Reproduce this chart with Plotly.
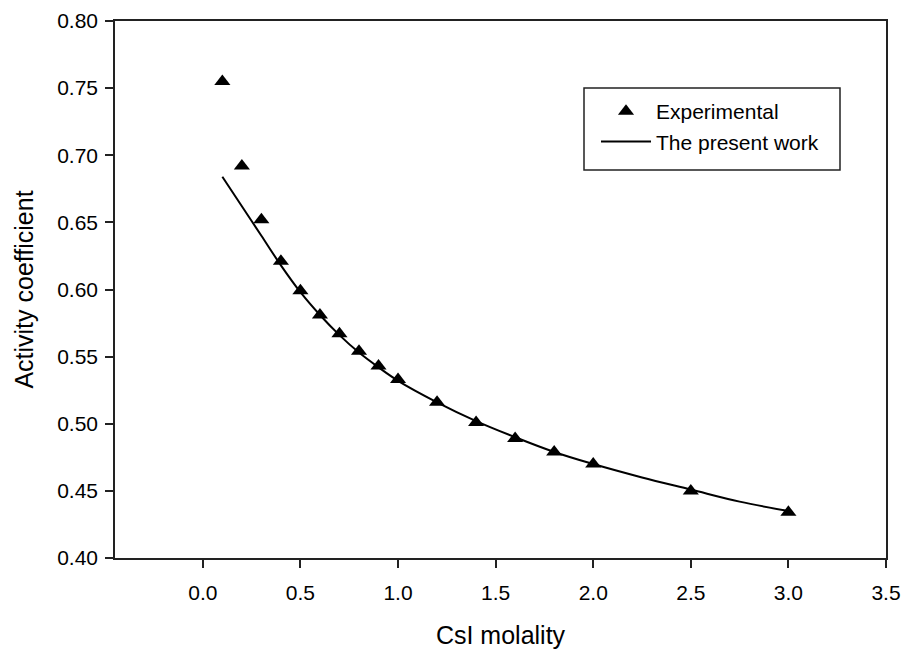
import plotly.graph_objects as go

exp_m = [0.1, 0.2, 0.3, 0.4, 0.5, 0.6, 0.7, 0.8, 0.9, 1.0, 1.2, 1.4, 1.6, 1.8, 2.0, 2.5, 3.0]
exp_gamma = [0.755, 0.692, 0.652, 0.621, 0.599, 0.581, 0.567, 0.554, 0.543, 0.533,
             0.516, 0.501, 0.489, 0.479, 0.470, 0.450, 0.434]

# Model curve (The present work)
fit_m = [0.1, 0.2, 0.3, 0.4, 0.5, 0.6, 0.7, 0.8, 0.9, 1.0, 1.2, 1.4, 1.6, 1.8,
         2.0, 2.25, 2.5, 2.75, 3.0]
fit_gamma = [0.684, 0.662, 0.640, 0.618, 0.598, 0.581, 0.566, 0.553, 0.542,
             0.532, 0.516, 0.502, 0.490, 0.479, 0.470, 0.460, 0.451, 0.442, 0.435]

x_ticks = [0.0, 0.5, 1.0, 1.5, 2.0, 2.5, 3.0, 3.5]
y_ticks = [0.40, 0.45, 0.50, 0.55, 0.60, 0.65, 0.70, 0.75, 0.80]

FONT = "Liberation Sans, Arial, sans-serif"

fig = go.Figure()
fig.add_trace(go.Scatter(
    x=exp_m, y=exp_gamma, mode="markers", name="Experimental",
    marker=dict(symbol="triangle-up", size=14, color="black"),
))
fig.add_trace(go.Scatter(
    x=fit_m, y=fit_gamma, mode="lines", name="The present work",
    line=dict(color="black", width=2, shape="spline"),
))

axis_common = dict(
    showline=True, linecolor="#222", linewidth=1.5, mirror=True,
    ticks="outside", ticklen=8, tickwidth=1.5, tickcolor="#222",
    showgrid=False, zeroline=False, automargin=False,
    tickfont=dict(family=FONT, size=21, color="black"),
)

fig.update_layout(
    width=905, height=649,
    margin=dict(l=115, r=19, t=21, b=91),
    paper_bgcolor="white", plot_bgcolor="white",
    font=dict(family=FONT, color="black"),
    xaxis=dict(range=[-0.45, 3.5], tickvals=x_ticks,
               ticktext=[f"{v:.1f}" for v in x_ticks],
               ticklabelstandoff=7,
               title=dict(text="CsI molality", font=dict(family=FONT, size=25), standoff=24),
               **axis_common),
    yaxis=dict(range=[0.40, 0.80], tickvals=y_ticks,
               ticktext=[f"{v:.2f}" for v in y_ticks],
               ticklabelstandoff=3,
               title=dict(text="Activity coefficient", font=dict(family=FONT, size=25), standoff=16),
               **axis_common),
    legend=dict(x=(596 - 115) / 771, y=(558 - 91) / 537, xanchor="left", yanchor="top",
                bgcolor="rgba(0,0,0,0)", borderwidth=0,
                font=dict(family=FONT, size=21), itemwidth=50, tracegroupgap=0),
    showlegend=True,
    shapes=[dict(type="rect", xref="paper", yref="paper",
                 x0=(584 - 115) / 771, x1=(840 - 115) / 771,
                 y0=(558 - 170) / 537, y1=(558 - 88) / 537,
                 line=dict(color="#222", width=1.5), fillcolor="rgba(0,0,0,0)")],
)

fig.write_html("out.html")
